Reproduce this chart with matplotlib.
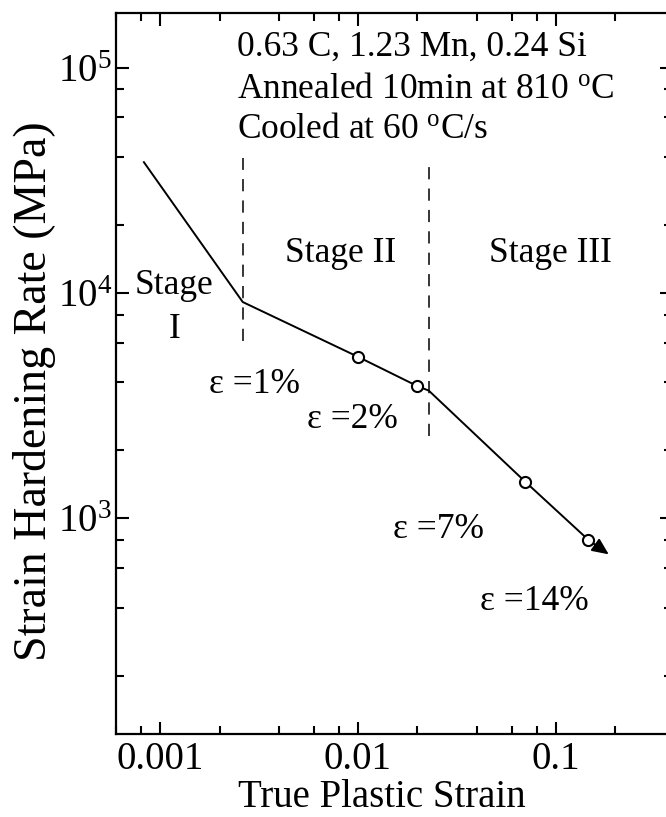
import matplotlib
matplotlib.use("Agg")
import matplotlib.pyplot as plt
from matplotlib.ticker import LogLocator, NullFormatter

plt.rcParams['font.family'] = ['Liberation Serif', 'DejaVu Serif']
plt.rcParams['mathtext.fontset'] = 'custom'
plt.rcParams['mathtext.rm'] = 'Liberation Serif'
plt.rcParams['mathtext.it'] = 'Liberation Serif:italic'
plt.rcParams['mathtext.bf'] = 'Liberation Serif:bold'

# strain hardening curve (true plastic strain, rate in MPa)
strain = [0.00083, 0.00262, 0.0100, 0.0200, 0.0228, 0.0700, 0.146]
rate = [38000, 9100, 5200, 3850, 3680, 1450, 800]
# open circles at 1%, 2%, 7%, 14%
mark_strain = [0.0100, 0.0200, 0.0700, 0.146]
mark_rate = [5200, 3850, 1450, 800]
arrow_end = (0.185, 690)

# stage boundaries (dashed)
stage_x = [0.00262, 0.0229]
stage_top = [39500, 39500]
stage_bottom = [6100, 2320]

xticks = [0.001, 0.01, 0.1]
xlabels = ['0.001', '0.01', '0.1']
yticks = [1e3, 1e4, 1e5]
ylabels = [r'$10^3$', r'$10^4$', r'$10^5$']

fig = plt.figure(figsize=(6.66, 8.17), dpi=100)
ax = fig.add_axes([116/666, 1 - 734/817, (672 - 116)/666, (734 - 13)/817])
ax.set_xscale('log')
ax.set_yscale('log')
ax.set_xlim(0.0006, 0.386)
ax.set_ylim(110, 174600)

ax.plot(strain, rate, color='black', lw=1.4, zorder=3)
ax.plot(mark_strain, mark_rate, 'o', ms=8, mfc='white', mec='black', mew=1.5, zorder=4)
ax.annotate('', xy=arrow_end, xytext=(mark_strain[-1], mark_rate[-1]),
            arrowprops=dict(arrowstyle='-|>,head_length=1.0,head_width=0.45',
                            color='black', lw=1.4, shrinkA=4, shrinkB=0), zorder=3)

for x, y0, y1 in zip(stage_x, stage_bottom, stage_top):
    ax.plot([x, x], [y0, y1], color='black', lw=1.1, linestyle=(0, (8, 6)))

fs = 25.5
ax.text(0.00245, 112500, '0.63 C, 1.23 Mn, 0.24 Si', fontsize=fs, va='baseline')
ax.text(0.00245, 73200, r'Annealed 10min at 810 $^{\mathrm{o}}$C', fontsize=fs, va='baseline')
ax.text(0.00245, 48700, r'Cooled at 60 $^{\mathrm{o}}$C/s', fontsize=fs, va='baseline')

ax.text(0.0082, 15000, 'Stage II', fontsize=fs, ha='center', va='center')
ax.text(0.0944, 15000, 'Stage III', fontsize=fs, ha='center', va='center')
ax.text(0.00118, 10740, 'Stage', fontsize=fs, ha='center', va='center')
ax.text(0.00118, 6850, 'I', fontsize=fs, ha='center', va='center')

ax.text(0.0030, 3910, 'ε =1%', fontsize=fs, ha='center', va='center')
ax.text(0.0094, 2735, 'ε =2%', fontsize=fs, ha='center', va='center')
ax.text(0.0254, 889, 'ε =7%', fontsize=fs, ha='center', va='center')
ax.text(0.078, 425, 'ε =14%', fontsize=fs, ha='center', va='center')

ax.set_xticks(xticks, labels=xlabels)
ax.set_yticks(yticks, labels=ylabels)
ax.xaxis.set_minor_locator(LogLocator(base=10, subs=(2, 4, 6, 8)))
ax.yaxis.set_minor_locator(LogLocator(base=10, subs=(2, 4, 6, 8)))
ax.xaxis.set_minor_formatter(NullFormatter())
ax.yaxis.set_minor_formatter(NullFormatter())
ax.tick_params(which='both', direction='in', top=True, right=True, width=1.5, labelsize=28)
ax.tick_params(which='major', length=9)
ax.tick_params(which='minor', length=6)
ax.tick_params(axis='x', pad=5)
ax.tick_params(axis='y', pad=3)
for sp in ax.spines.values():
    sp.set_linewidth(1.6)

ax.set_xlabel('True Plastic Strain', fontsize=28, labelpad=2)
ax.set_ylabel('Strain Hardening Rate (MPa)', fontsize=33)
ax.xaxis.set_label_coords(0.478, -0.062)
ax.yaxis.set_label_coords(-0.108, 0.475)

fig.savefig('out.png', dpi=100)
